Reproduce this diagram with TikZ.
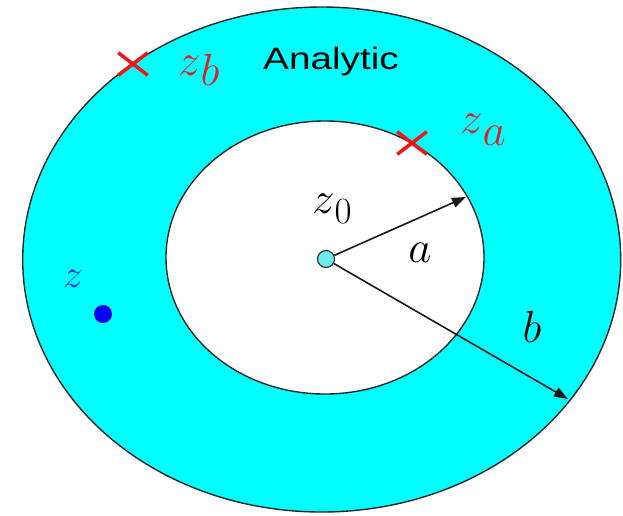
\RequirePackage{fix-cm}
\documentclass[tikz,border=0pt]{standalone}
\usepackage{fontspec}
\newfontfamily\labelfont{Liberation Sans}
\usetikzlibrary{arrows.meta,shapes.misc}
\definecolor{ringcyan}{RGB}{0,255,255}
\definecolor{markred}{RGB}{245,20,20}
\definecolor{labred}{RGB}{225,30,40}
\definecolor{labblue}{RGB}{25,50,235}
\definecolor{dotblue}{RGB}{0,0,240}
\definecolor{centerfill}{RGB}{110,235,235}
\tikzset{
  ring/.style={draw=black!85, line width=1.4pt},
  radius arrow/.style={draw=black!90, line width=1.6pt, -{Triangle[length=14pt,width=10pt]}},
  pole/.style={cross out, draw=markred, line width=3.5pt, minimum width=26pt, minimum height=19pt, inner sep=0pt},
  mathlab/.style={inner sep=0pt, font=\fontsize{45}{50}\selectfont},
}
\begin{document}
\begin{tikzpicture}[x=1pt,y=-1pt]
\useasboundingbox (0,0) rectangle (623,515);
\fill[white] (0,0) rectangle (623,515);
% annulus
\filldraw[ring, fill=ringcyan] (321.7,259.5) ellipse [x radius=299, y radius=252.5];
\filldraw[ring, fill=white] (325,257.5) ellipse [x radius=159, y radius=136.5];
% centre and radii
\node[circle, draw=black!80, fill=centerfill, line width=1.2pt, minimum size=17pt, inner sep=0pt] (c) at (326,259) {};
\coordinate (atip) at (466,197);
\coordinate (btip) at (568,399);
\draw[radius arrow] (c) -- (atip);
\draw[radius arrow] (c) -- (btip);
% singular points
\node[pole] (zbmark) at (133,64) {};
\node[pole] (zamark) at (412,143) {};
% labels
\node[mathlab, text=labred, anchor=base west] (zb) at (178,75) {$z$\raisebox{-10pt}{$b$}};
\node[mathlab, text=labred, anchor=base west] (za) at (460,133) {$z$\raisebox{-12pt}{$a$}};
\node[mathlab, anchor=base west] (z0) at (312,213) {$z$\raisebox{-10pt}{\fontsize{37}{40}\selectfont$0$}};
\node[mathlab, anchor=base] (alab) at (420,262) {$a$};
\node[mathlab, anchor=base] (blab) at (532,342) {$b$};
\node[mathlab, text=labblue, anchor=base, font=\fontsize{40}{44}\selectfont] (zlab) at (73,287) {$z$};
\node[circle, fill=dotblue, minimum size=18pt, inner sep=0pt] (zpt) at (103,314) {};
\node[inner sep=0pt, anchor=base] (analytic) at (331,69) {\labelfont\fontsize{31}{36}\selectfont\scalebox{1.25}[1]{Analytic}};
\end{tikzpicture}
\end{document}
